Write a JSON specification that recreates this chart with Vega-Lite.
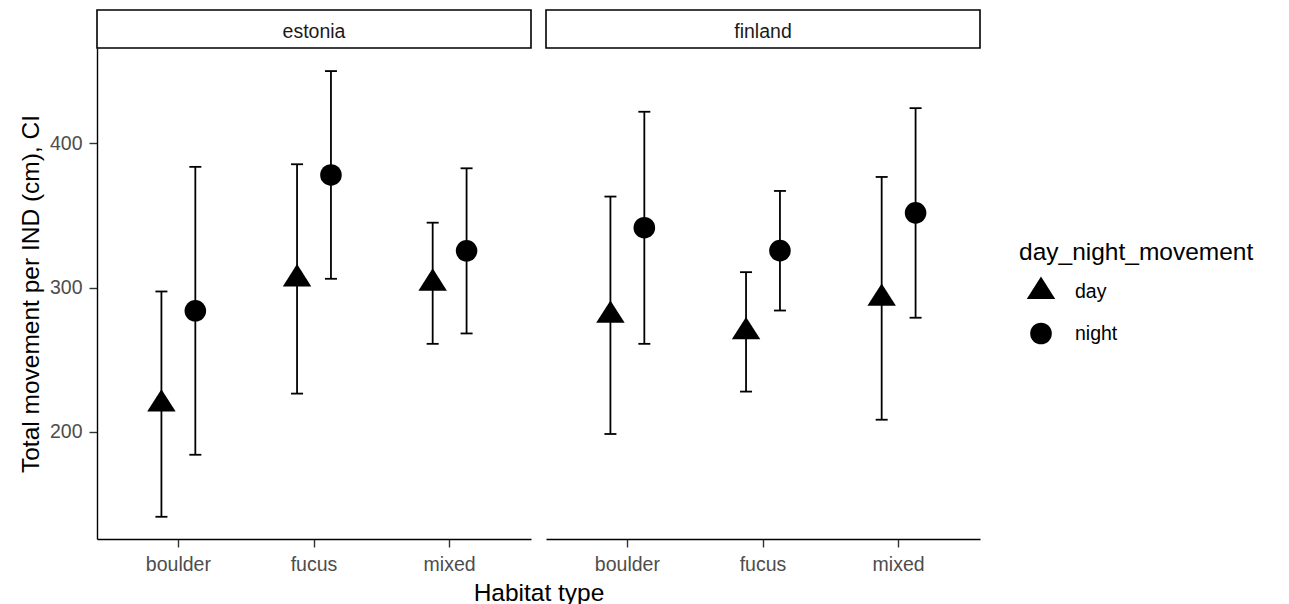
{
  "$schema": "https://vega.github.io/schema/vega-lite/v6.json",
  "padding": {"left": 18, "top": 9, "right": 5, "bottom": 5},
  "background": "white",
  "datasets": {
    "ci": [
      {"country": "estonia", "habitat": "boulder", "day_night_movement": "day", "mean": 219.3, "lower": 141.2, "upper": 297.4},
      {"country": "estonia", "habitat": "boulder", "day_night_movement": "night", "mean": 284.0, "lower": 184.2, "upper": 383.8},
      {"country": "estonia", "habitat": "fucus", "day_night_movement": "day", "mean": 306.1, "lower": 226.6, "upper": 385.6},
      {"country": "estonia", "habitat": "fucus", "day_night_movement": "night", "mean": 378.2, "lower": 306.2, "upper": 450.2},
      {"country": "estonia", "habitat": "mixed", "day_night_movement": "day", "mean": 303.1, "lower": 261.1, "upper": 345.1},
      {"country": "estonia", "habitat": "mixed", "day_night_movement": "night", "mean": 325.6, "lower": 268.3, "upper": 382.8},
      {"country": "finland", "habitat": "boulder", "day_night_movement": "day", "mean": 280.9, "lower": 198.6, "upper": 363.2},
      {"country": "finland", "habitat": "boulder", "day_night_movement": "night", "mean": 341.6, "lower": 261.1, "upper": 422.0},
      {"country": "finland", "habitat": "fucus", "day_night_movement": "day", "mean": 269.4, "lower": 228.0, "upper": 310.8},
      {"country": "finland", "habitat": "fucus", "day_night_movement": "night", "mean": 325.7, "lower": 284.2, "upper": 367.1},
      {"country": "finland", "habitat": "mixed", "day_night_movement": "day", "mean": 292.6, "lower": 208.5, "upper": 376.8},
      {"country": "finland", "habitat": "mixed", "day_night_movement": "night", "mean": 351.9, "lower": 279.2, "upper": 424.5}
    ],
    "strips": [{"country": "estonia"}, {"country": "finland"}]
  },
  "config": {
    "font": "Liberation Sans",
    "view": {"stroke": null},
    "axis": {
      "grid": false,
      "domainColor": "black",
      "domainWidth": 1.4,
      "tickColor": "#333333",
      "tickWidth": 1.4,
      "tickSize": 8,
      "labelColor": "#4D4D4D",
      "labelFontSize": 19.5,
      "labelFont": "Liberation Sans",
      "titleFont": "Liberation Sans",
      "titleFontSize": 24.5,
      "titleFontWeight": "normal",
      "titleColor": "black"
    },
    "legend": {
      "titleFont": "Liberation Sans",
      "labelFont": "Liberation Sans",
      "titleFontSize": 24.5,
      "titleFontWeight": "normal",
      "titleColor": "black",
      "titleLimit": 0,
      "labelFontSize": 19.5,
      "labelColor": "black",
      "symbolSize": 466,
      "symbolFillColor": "black",
      "symbolStrokeWidth": 0,
      "rowPadding": 21,
      "titlePadding": 15,
      "labelOffset": 23,
      "symbolOffset": 11,
      "padding": 0
    }
  },
  "spacing": 449,
  "bounds": "flush",
  "hconcat": [
    {
      "spacing": 0,
      "bounds": "flush",
      "vconcat": [
        {
          "data": {"name": "strips"},
          "transform": [{"filter": "datum.country === 'estonia'"}],
          "width": 434,
          "height": 38,
          "view": {"stroke": "black", "strokeWidth": 1.6, "fill": "white"},
          "mark": {"type": "text", "fontSize": 19.5, "color": "#1A1A1A", "baseline": "middle", "align": "center", "dy": 3, "font": "Liberation Sans"},
          "encoding": {"text": {"field": "country"}}
        },
        {
          "data": {"name": "ci"},
          "transform": [{"filter": "datum.country === 'estonia'"}],
          "width": 434,
          "height": 491,
          "encoding": {
            "x": {
              "field": "habitat", "type": "nominal",
              "scale": {"domain": ["boulder", "fucus", "mixed"], "paddingInner": 0, "paddingOuter": 0.1},
              "axis": {"title": "Habitat type", "titleX": 441.5, "labelAngle": 0, "labelPadding": 8, "titlePadding": 8}
            },
            "xOffset": {
              "field": "day_night_movement", "type": "nominal",
              "scale": {"domain": ["day", "night"], "paddingInner": 0, "paddingOuter": 1}
            }
          },
          "layer": [
            {
              "mark": {"type": "rule", "color": "black", "strokeWidth": 1.8},
              "encoding": {
                "y": {"field": "lower", "type": "quantitative", "title": "Total movement per IND (cm), CI",
                  "scale": {"domain": [125.8, 466.2], "nice": false, "zero": false},
                  "axis": {"values": [200, 300, 400], "labelPadding": 7, "titlePadding": 6}},
                "y2": {"field": "upper"}
              }
            },
            {
              "mark": {"type": "tick", "color": "black", "size": 12, "thickness": 1.8, "opacity": 1},
              "encoding": {"y": {"field": "lower", "type": "quantitative", "title": "Total movement per IND (cm), CI"}}
            },
            {
              "mark": {"type": "tick", "color": "black", "size": 12, "thickness": 1.8, "opacity": 1},
              "encoding": {"y": {"field": "upper", "type": "quantitative", "title": "Total movement per IND (cm), CI"}}
            },
            {
              "mark": {"type": "point", "filled": true, "opacity": 1, "size": 466, "color": "black"},
              "encoding": {
                "y": {"field": "mean", "type": "quantitative", "title": "Total movement per IND (cm), CI"},
                "shape": {
                  "field": "day_night_movement", "type": "nominal",
                  "scale": {"domain": ["day", "night"], "range": ["M0,-1.38L1.32,0.69L-1.32,0.69Z", "circle"]},
                  "legend": {"title": "day_night_movement", "orient": "none", "legendX": 922, "legendY": 231}
                }
              }
            }
          ]
        }
      ]
    },
    {
      "spacing": 0,
      "bounds": "flush",
      "vconcat": [
        {
          "data": {"name": "strips"},
          "transform": [{"filter": "datum.country === 'finland'"}],
          "width": 434,
          "height": 38,
          "view": {"stroke": "black", "strokeWidth": 1.6, "fill": "white"},
          "mark": {"type": "text", "fontSize": 19.5, "color": "#1A1A1A", "baseline": "middle", "align": "center", "dy": 3, "font": "Liberation Sans"},
          "encoding": {"text": {"field": "country"}}
        },
        {
          "data": {"name": "ci"},
          "transform": [{"filter": "datum.country === 'finland'"}],
          "width": 434,
          "height": 491,
          "encoding": {
            "x": {
              "field": "habitat", "type": "nominal",
              "scale": {"domain": ["boulder", "fucus", "mixed"], "paddingInner": 0, "paddingOuter": 0.1},
              "axis": {"title": null, "labelAngle": 0, "labelPadding": 8}
            },
            "xOffset": {
              "field": "day_night_movement", "type": "nominal",
              "scale": {"domain": ["day", "night"], "paddingInner": 0, "paddingOuter": 1}
            }
          },
          "layer": [
            {
              "mark": {"type": "rule", "color": "black", "strokeWidth": 1.8},
              "encoding": {
                "y": {"field": "lower", "type": "quantitative",
                  "scale": {"domain": [125.8, 466.2], "nice": false, "zero": false},
                  "axis": null},
                "y2": {"field": "upper"}
              }
            },
            {
              "mark": {"type": "tick", "color": "black", "size": 12, "thickness": 1.8, "opacity": 1},
              "encoding": {"y": {"field": "lower", "type": "quantitative", "axis": null}}
            },
            {
              "mark": {"type": "tick", "color": "black", "size": 12, "thickness": 1.8, "opacity": 1},
              "encoding": {"y": {"field": "upper", "type": "quantitative", "axis": null}}
            },
            {
              "mark": {"type": "point", "filled": true, "opacity": 1, "size": 466, "color": "black"},
              "encoding": {
                "y": {"field": "mean", "type": "quantitative", "axis": null},
                "shape": {
                  "field": "day_night_movement", "type": "nominal",
                  "scale": {"domain": ["day", "night"], "range": ["M0,-1.38L1.32,0.69L-1.32,0.69Z", "circle"]},
                  "legend": {"title": "day_night_movement", "orient": "none", "legendX": 922, "legendY": 231}
                }
              }
            }
          ]
        }
      ]
    }
  ]
}
